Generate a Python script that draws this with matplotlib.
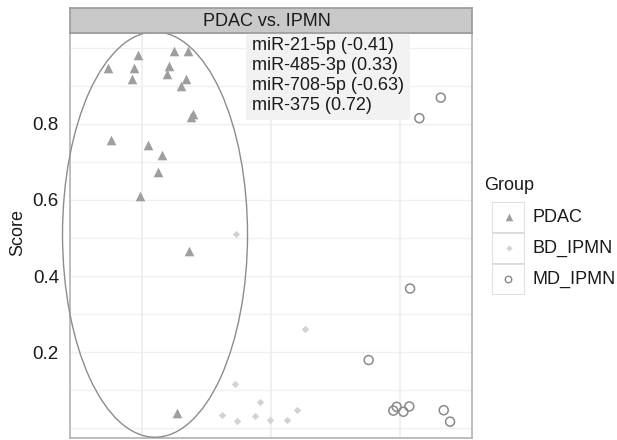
import matplotlib
matplotlib.use('Agg')
import matplotlib.pyplot as plt
from matplotlib.patches import Ellipse, Rectangle
import numpy as np

plt.rcParams['font.family'] = ['Liberation Sans', 'DejaVu Sans']

# data (x has no visible labels, units arbitrary)
pdac_x = [-0.261, -0.029, -0.062, -0.080, 0.250, 0.354, 0.209, 0.196, 0.339, 0.302,
          0.393, 0.378, -0.243, 0.044, 0.155, 0.124, -0.016, 0.362, 0.269]
pdac_y = [0.947, 0.982, 0.948, 0.918, 0.992, 0.992, 0.953, 0.932, 0.918, 0.900,
          0.826, 0.817, 0.758, 0.745, 0.718, 0.674, 0.611, 0.467, 0.039]
bd_x = [0.725, 1.261, 0.723, 0.622, 0.734, 0.876, 0.915, 0.995, 1.124, 1.199]
bd_y = [0.510, 0.261, 0.116, 0.034, 0.018, 0.032, 0.069, 0.021, 0.021, 0.047]
md_x = [2.316, 2.150, 2.078, 1.757, 1.948, 1.974, 2.026, 2.072, 2.339, 2.388]
md_y = [0.869, 0.815, 0.367, 0.179, 0.046, 0.056, 0.043, 0.057, 0.047, 0.017]

groups = ['PDAC', 'BD_IPMN', 'MD_IPMN']
mirnas = ['miR-21-5p (-0.41)', 'miR-485-3p (0.33)', 'miR-708-5p (-0.63)', 'miR-375 (0.72)']
yticks = [0.2, 0.4, 0.6, 0.8]
panel_title = 'PDAC vs. IPMN'

# PDAC ellipse (centre, width, height)
ell_c = (0.101, 0.509)
ell_w, ell_h = 1.434, 1.066

W, H = 617, 440
fig = plt.figure(figsize=(W / 100, H / 100), dpi=100)

def rect(x0, y0, x1, y1):
    # pixel box (top-left origin) -> figure fraction
    return [x0 / W, 1 - y1 / H, (x1 - x0) / W, (y1 - y0) / H]

ax = fig.add_axes(rect(70, 33, 472, 438))
ax.set_xlim(-0.558, 2.558)
ax.set_ylim(-0.026, 1.039)
ax.set_facecolor('white')

for v in np.arange(0, 1.01, 0.1):
    ax.axhline(v, color='#f0f0f0', lw=1, zorder=0)
for v in [0, 1, 2]:
    ax.axvline(v, color='#eeeeee', lw=1.2, zorder=0)

ax.scatter(pdac_x, pdac_y, marker='^', s=48, color='#9e9e9e', lw=0, zorder=3)
ax.scatter(bd_x, bd_y, marker='D', s=14, color='#d2d2d2', lw=0, zorder=3)
ax.scatter(md_x, md_y, marker='o', s=42, facecolor='none', edgecolor='#8a8a8a', lw=1.1, zorder=3)

e = Ellipse(ell_c, ell_w, ell_h, fill=False, edgecolor='#8c8c8c', lw=1.0, clip_on=False, zorder=4)
ax.add_patch(e)

ax.text(0.853, 1.028, '\n'.join(mirnas), ha='left', va='top', fontsize=13,
        linespacing=1.22, color='#1a1a1a', zorder=5,
        bbox=dict(boxstyle='square,pad=0.32', facecolor='#f2f2f2', edgecolor='none'))

ax.set_xticks([])
ax.set_yticks(yticks)
ax.set_yticklabels([str(t) for t in yticks], fontsize=13.5, color='#1a1a1a')
ax.tick_params(axis='y', length=0, pad=8)
for s in ax.spines.values():
    s.set_color('#b3b3b3')
    s.set_linewidth(1.2)
fig.text(17.5 / W, 1 - 232 / H, 'Score', rotation=90, ha='center', va='center',
         fontsize=13, color='#1a1a1a')

# facet strip
sax = fig.add_axes(rect(70, 8, 472, 33))
sax.set_facecolor('#c9c9c9')
sax.set_xticks([])
sax.set_yticks([])
for s in sax.spines.values():
    s.set_color('#9a9a9a')
    s.set_linewidth(1.2)
sax.text(0.49, 0.47, panel_title, ha='center', va='center', fontsize=13,
         color='#1a1a1a', transform=sax.transAxes)

# legend
fig.text(484 / W, 1 - 185 / H, 'Group', ha='left', va='center', fontsize=13, color='#1a1a1a')
lax = fig.add_axes(rect(492, 202, 525, 295))
lax.set_xlim(0, 1)
lax.set_ylim(0, 3)
lax.axis('off')
styles = [dict(marker='^', s=30, color='#9e9e9e', lw=0),
          dict(marker='D', s=10, color='#d2d2d2', lw=0),
          dict(marker='o', s=22, facecolor='none', edgecolor='#8a8a8a', lw=1.0)]
for i, (g, st) in enumerate(zip(groups, styles)):
    yy = 2 - i
    lax.add_patch(Rectangle((0, yy), 1, 1, facecolor='white', edgecolor='#d9d9d9', lw=1.2))
    lax.scatter([0.5], [yy + 0.5], **st)
    fig.text(532 / W, 1 - (217.5 + 31 * i) / H, g, ha='left', va='center',
             fontsize=13, color='#1a1a1a')

fig.savefig('out.png', dpi=100)
